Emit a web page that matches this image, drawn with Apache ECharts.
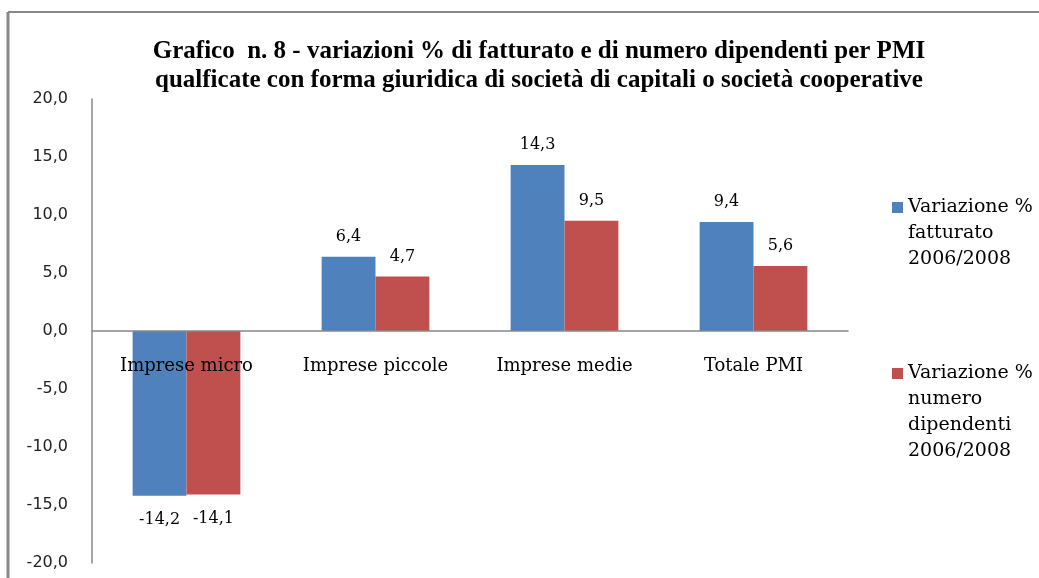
<!DOCTYPE html>
<html>
<head>
<meta charset="utf-8">
<script src="https://cdn.jsdelivr.net/npm/echarts@6/dist/echarts.min.js"></script>
<style>html,body{margin:0;padding:0;background:#fff}#c{width:1039px;height:578px}</style>
</head>
<body>
<div id="c"></div>
<script>
const titleLines = ["Grafico  n. 8 - variazioni % di fatturato e di numero dipendenti per PMI", "qualficate con forma giuridica di società di capitali o società cooperative"];
const categories = ["Imprese micro", "Imprese piccole", "Imprese medie", "Totale PMI"];
const seriesNames = ["Variazione %\nfatturato\n2006/2008", "Variazione %\nnumero\ndipendenti\n2006/2008"];
const fatturato = [-14.2, 6.4, 14.3, 9.4];
const dipendenti = [-14.1, 4.7, 9.5, 5.6];
const colors = ["#4F81BD", "#C0504D"];
const serif = "'Liberation Serif', serif";
const wserif = "'DejaVu Serif', serif";
const fmt = v => v.toFixed(1).replace('.', ',');

function mkData(arr) {
  return arr.map(v => ({
    value: v,
    label: { position: v < 0 ? 'bottom' : 'top', distance: v < 0 ? 16 : 12 }
  }));
}
function mkSeries(i, arr) {
  return {
    type: 'bar', name: seriesNames[i], data: mkData(arr),
    barGap: '0%', barCategoryGap: '43%',
    itemStyle: { color: colors[i] },
    label: { show: true, formatter: p => fmt(p.value), fontFamily: wserif, fontSize: 16, color: '#000' },
    silent: true
  };
}
function legendItem(i, top) {
  return {
    type: 'group', left: 892, top: top,
    children: [
      { type: 'rect', shape: { x: 0, y: 8, width: 11, height: 11 }, style: { fill: colors[i] } },
      { type: 'text', x: 16, y: 0, style: { text: seriesNames[i], font: "19px " + wserif, lineHeight: 26, fill: '#000' } }
    ]
  };
}
const chart = echarts.init(document.getElementById('c'), null, { renderer: 'canvas' });
chart.setOption({
  animation: false,
  backgroundColor: '#fff',
  title: {
    text: titleLines.join('\n'), left: 534, top: 32, textAlign: 'center',
    textStyle: { fontFamily: serif, fontWeight: 'bold', fontSize: 25, lineHeight: 29, color: '#000' }
  },
  grid: { left: 92, right: 191, top: 99, bottom: 15, outerBoundsMode: 'none', containLabel: false },
  xAxis: {
    type: 'category', data: categories, z: 5,
    axisLine: { onZero: true, lineStyle: { color: '#888', width: 1.5 } },
    axisTick: { show: false },
    axisLabel: { fontFamily: wserif, fontSize: 18, color: '#000', margin: -206 }
  },
  yAxis: {
    type: 'value', min: -20, max: 20, interval: 5,
    axisLine: { show: true, lineStyle: { color: '#888', width: 1.5 } },
    axisTick: { show: false },
    splitLine: { show: false },
    axisLabel: { fontFamily: "'DejaVu Sans', sans-serif", fontSize: 16, color: '#222', margin: 24, formatter: v => fmt(v) }
  },
  series: [mkSeries(0, fatturato), mkSeries(1, dipendenti)],
  graphic: [
    { type: 'line', shape: { x1: 8, y1: 12, x2: 1039, y2: 12 }, style: { stroke: '#888', lineWidth: 2 } },
    { type: 'line', shape: { x1: 8, y1: 12, x2: 8, y2: 578 }, style: { stroke: '#888', lineWidth: 3 } },
    legendItem(0, 194),
    legendItem(1, 360)
  ]
});
</script>
</body>
</html>
